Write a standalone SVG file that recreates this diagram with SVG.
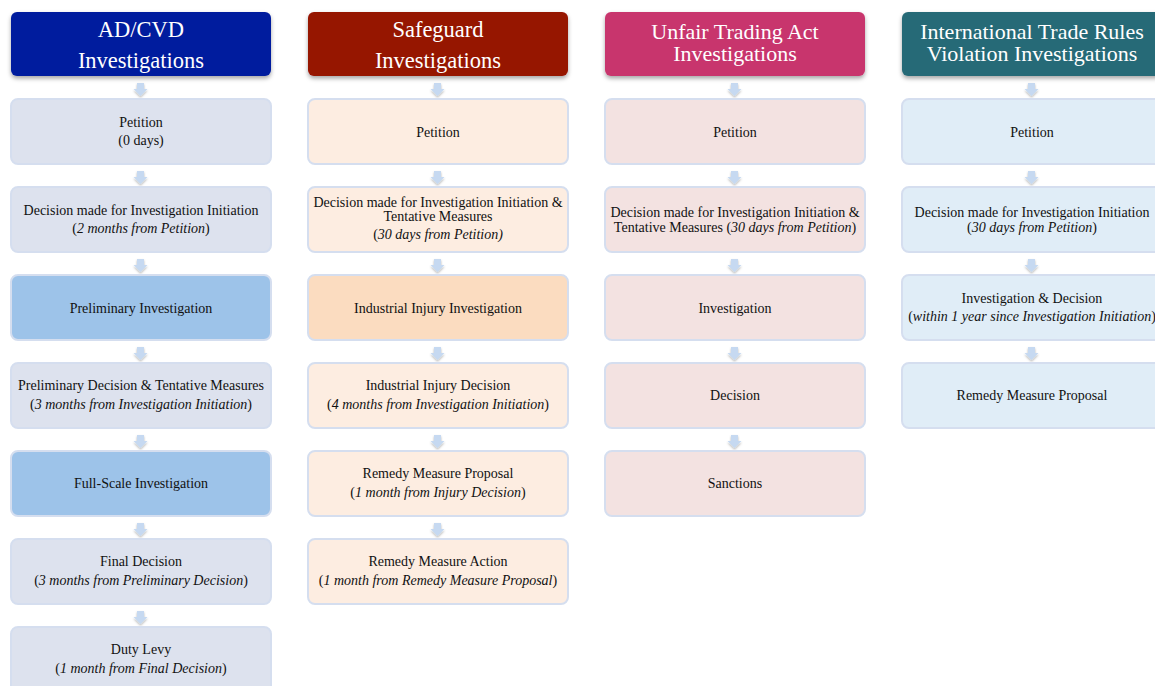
<svg xmlns="http://www.w3.org/2000/svg" width="1155" height="686" viewBox="0 0 1155 686">
<defs>
<filter id="hs" x="-10%" y="-20%" width="120%" height="150%"><feDropShadow dx="0" dy="2.5" stdDeviation="2" flood-color="#000" flood-opacity="0.35"/></filter>
<filter id="as" x="-50%" y="-50%" width="200%" height="200%"><feDropShadow dx="0" dy="1.5" stdDeviation="1" flood-color="#000" flood-opacity="0.3"/></filter>
<path id="arr" d="M-3.5 0 h7 v6 h3.5 l-7 7 l-7 -7 h3.5 z"/>
</defs>
<style>
text{font-family:"Liberation Serif","DejaVu Serif",serif;text-anchor:middle;}
.h{fill:#fff;font-size:22.5px;}
.h2{fill:#fff;font-size:22px;}
.t{fill:#111;font-size:14px;}
.i{font-style:italic;}
.b{stroke:#D5DEEF;stroke-width:2;}
.c1{fill:#DDE2EE;}
.c1h{fill:#9DC3E9;}
.c2{fill:#FDEDE1;}
.c2h{fill:#FBDCC0;}
.c3{fill:#F3E2E1;}
.c4{fill:#E0EDF7;}
.a{fill:#C6D9F1;filter:url(#as);}
</style>
<rect width="1155" height="686" fill="#fff"/>

<g id="connectors">
<use href="#arr" class="a" x="140.5" y="83"/>
<use href="#arr" class="a" x="140.5" y="171"/>
<use href="#arr" class="a" x="140.5" y="259"/>
<use href="#arr" class="a" x="140.5" y="347"/>
<use href="#arr" class="a" x="140.5" y="435"/>
<use href="#arr" class="a" x="140.5" y="523"/>
<use href="#arr" class="a" x="140.5" y="611"/>
<use href="#arr" class="a" x="437.5" y="83"/>
<use href="#arr" class="a" x="437.5" y="171"/>
<use href="#arr" class="a" x="437.5" y="259"/>
<use href="#arr" class="a" x="437.5" y="347"/>
<use href="#arr" class="a" x="437.5" y="435"/>
<use href="#arr" class="a" x="437.5" y="523"/>
<use href="#arr" class="a" x="734.5" y="83"/>
<use href="#arr" class="a" x="734.5" y="171"/>
<use href="#arr" class="a" x="734.5" y="259"/>
<use href="#arr" class="a" x="734.5" y="347"/>
<use href="#arr" class="a" x="734.5" y="435"/>
<use href="#arr" class="a" x="1031.5" y="83"/>
<use href="#arr" class="a" x="1031.5" y="171"/>
<use href="#arr" class="a" x="1031.5" y="259"/>
<use href="#arr" class="a" x="1031.5" y="347"/>
</g>

<!-- Column 1 -->
<g id="h1"><rect x="11" y="12" width="260" height="64" rx="6" fill="#001E9E" filter="url(#hs)"/>
<text class="h" x="141" y="37">AD/CVD</text><text class="h" x="141" y="68">Investigations</text></g>
<g id="n1_1"><rect class="b c1" x="11" y="99" width="260" height="65" rx="7"/>
<text class="t" x="141" y="127">Petition</text><text class="t" x="141" y="145">(0 days)</text></g>
<g id="n1_2"><rect class="b c1" x="11" y="187" width="260" height="65" rx="7"/>
<text class="t" x="141" y="215">Decision made for Investigation Initiation</text><text class="t" x="141" y="233">(<tspan class="i">2 months from Petition</tspan>)</text></g>
<g id="n1_3"><rect class="b c1h" x="11" y="275" width="260" height="65" rx="7"/>
<text class="t" x="141" y="312.5">Preliminary Investigation</text></g>
<g id="n1_4"><rect class="b c1" x="11" y="363" width="260" height="65" rx="7"/>
<text class="t" x="141" y="390">Preliminary Decision &amp; Tentative Measures</text><text class="t" x="141" y="409">(<tspan class="i">3 months from Investigation Initiation</tspan>)</text></g>
<g id="n1_5"><rect class="b c1h" x="11" y="451" width="260" height="65" rx="7"/>
<text class="t" x="141" y="488">Full-Scale Investigation</text></g>
<g id="n1_6"><rect class="b c1" x="11" y="539" width="260" height="65" rx="7"/>
<text class="t" x="141" y="566">Final Decision</text><text class="t" x="141" y="585">(<tspan class="i">3 months from Preliminary Decision</tspan>)</text></g>
<g id="n1_7"><rect class="b c1" x="11" y="627" width="260" height="65" rx="7"/>
<text class="t" x="141" y="654">Duty Levy</text><text class="t" x="141" y="673">(<tspan class="i">1 month from Final Decision</tspan>)</text></g>

<!-- Column 2 -->
<g id="h2"><rect x="308" y="12" width="260" height="64" rx="6" fill="#961200" filter="url(#hs)"/>
<text class="h" x="438" y="37">Safeguard</text><text class="h" x="438" y="68">Investigations</text></g>
<g id="n2_1"><rect class="b c2" x="308" y="99" width="260" height="65" rx="7"/>
<text class="t" x="438" y="136.5">Petition</text></g>
<g id="n2_2"><rect class="b c2" x="308" y="187" width="260" height="65" rx="7"/>
<text class="t" x="438" y="207">Decision made for Investigation Initiation &amp;</text><text class="t" x="438" y="221">Tentative Measures</text><text class="t" x="438" y="239">(<tspan class="i">30 days from Petition)</tspan></text></g>
<g id="n2_3"><rect class="b c2h" x="308" y="275" width="260" height="65" rx="7"/>
<text class="t" x="438" y="312.5">Industrial Injury Investigation</text></g>
<g id="n2_4"><rect class="b c2" x="308" y="363" width="260" height="65" rx="7"/>
<text class="t" x="438" y="390">Industrial Injury Decision</text><text class="t" x="438" y="409">(<tspan class="i">4 months from Investigation Initiation</tspan>)</text></g>
<g id="n2_5"><rect class="b c2" x="308" y="451" width="260" height="65" rx="7"/>
<text class="t" x="438" y="478">Remedy Measure Proposal</text><text class="t" x="438" y="497">(<tspan class="i">1 month from Injury Decision</tspan>)</text></g>
<g id="n2_6"><rect class="b c2" x="308" y="539" width="260" height="65" rx="7"/>
<text class="t" x="438" y="566">Remedy Measure Action</text><text class="t" x="438" y="585">(<tspan class="i">1 month from Remedy Measure Proposal</tspan>)</text></g>

<!-- Column 3 -->
<g id="h3"><rect x="605" y="12" width="260" height="64" rx="6" fill="#C8366D" filter="url(#hs)"/>
<text class="h2" x="735" y="39">Unfair Trading Act</text><text class="h2" x="735" y="61">Investigations</text></g>
<g id="n3_1"><rect class="b c3" x="605" y="99" width="260" height="65" rx="7"/>
<text class="t" x="735" y="136.5">Petition</text></g>
<g id="n3_2"><rect class="b c3" x="605" y="187" width="260" height="65" rx="7"/>
<text class="t" x="735" y="216.5">Decision made for Investigation Initiation &amp;</text><text class="t" x="735" y="231.5">Tentative Measures (<tspan class="i">30 days from Petition</tspan>)</text></g>
<g id="n3_3"><rect class="b c3" x="605" y="275" width="260" height="65" rx="7"/>
<text class="t" x="735" y="312.5">Investigation</text></g>
<g id="n3_4"><rect class="b c3" x="605" y="363" width="260" height="65" rx="7"/>
<text class="t" x="735" y="400">Decision</text></g>
<g id="n3_5"><rect class="b c3" x="605" y="451" width="260" height="65" rx="7"/>
<text class="t" x="735" y="488">Sanctions</text></g>

<!-- Column 4 -->
<g id="h4"><rect x="902" y="12" width="260" height="64" rx="6" fill="#286A77" filter="url(#hs)"/>
<text class="h2" x="1032" y="39">International Trade Rules</text><text class="h2" x="1032" y="61">Violation Investigations</text></g>
<g id="n4_1"><rect class="b c4" x="902" y="99" width="260" height="65" rx="7"/>
<text class="t" x="1032" y="136.5">Petition</text></g>
<g id="n4_2"><rect class="b c4" x="902" y="187" width="260" height="65" rx="7"/>
<text class="t" x="1032" y="216.5">Decision made for Investigation Initiation</text><text class="t" x="1032" y="231.5">(<tspan class="i">30 days from Petition</tspan>)</text></g>
<g id="n4_3"><rect class="b c4" x="902" y="275" width="260" height="65" rx="7"/>
<text class="t" x="1032" y="303">Investigation &amp; Decision</text><text class="t" x="1032" y="320.5">(<tspan class="i">within 1 year since Investigation Initiation</tspan>)</text></g>
<g id="n4_4"><rect class="b c4" x="902" y="363" width="260" height="65" rx="7"/>
<text class="t" x="1032" y="400">Remedy Measure Proposal</text></g>
</svg>
